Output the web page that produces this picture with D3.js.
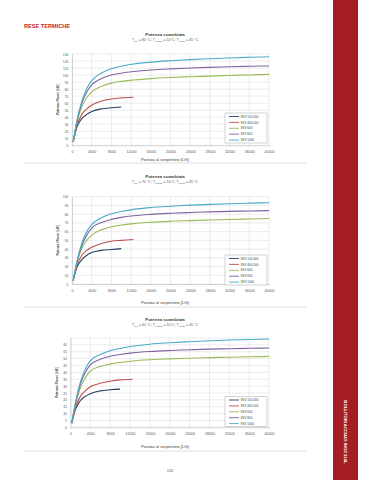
<!DOCTYPE html>
<html>
<head>
<meta charset="utf-8">
<script src="https://cdn.jsdelivr.net/npm/d3@7"></script>
<style>
  body { margin: 0; background: #fff; }
  svg { display: block; font-family: "Liberation Sans", Arial, sans-serif; }
  .grid line { stroke: #d9d9d9; stroke-width: 0.5; }
  .tick text { fill: #595959; }
</style>
</head>
<body>
<script>
// portata al serpentino [L/h]
var flows = [250, 1000, 2000, 3000, 4000, 6000, 8000, 10000, 12500, 16000, 20000, 24000, 28000, 32000, 36000, 40000];
var xTicks = [0, 4000, 8000, 12000, 16000, 20000, 24000, 28000, 32000, 36000, 40000];
var seriesNames = ["SKV 150-300", "SKV 400-500", "SKV 600", "SKV 800", "SKV 1000"];
var seriesColors = ["#243f60", "#c0504d", "#9bbb59", "#8064a2", "#4bacc6"];

// T coil = 80 °C
var power80 = [
    [5, 26, 38, 44, 48, 52, 53.5, 54.5],
    [5, 28, 44, 52, 57, 63, 66, 67.5, 68.5],
    [5, 32, 55, 68, 76, 84, 88.5, 91, 93, 95, 96.5, 97.6, 98.5, 99.4, 100.2, 101],
    [5, 34, 60, 76, 86, 95, 100, 102.7, 105, 107.2, 108.8, 110, 111, 111.8, 112.5, 113],
    [5, 35, 63, 81, 92, 103, 109, 112.6, 115.8, 118.4, 120.4, 122, 123.3, 124.4, 125.3, 126]
];
var yTicks80 = [0, 10, 20, 30, 40, 50, 60, 70, 80, 90, 100, 110, 120, 130];

// T coil = 70 °C
var power70 = [
    [4, 19, 28, 33, 36, 38.5, 39.5, 40.5],
    [4, 21, 33, 38.5, 42, 46.5, 49, 50, 51],
    [4, 24, 41, 50, 56, 62, 65.5, 67.5, 69.2, 70.7, 71.8, 72.6, 73.3, 73.9, 74.5, 75],
    [4, 25, 44, 56, 64, 70.5, 74, 76.3, 78.2, 79.8, 81, 81.9, 82.6, 83.2, 83.6, 84],
    [4, 26, 47, 60, 68, 76, 80.5, 83, 85.5, 87.6, 89.1, 90.3, 91.2, 92, 92.6, 93]
];
var yTicks70 = [0, 10, 20, 30, 40, 50, 60, 70, 80, 90, 100];

// T coil = 60 °C
var power60 = [
    [3, 13, 19.5, 22.5, 24.5, 26.5, 27.3, 27.8],
    [3, 14.5, 22.5, 26.5, 29.5, 32, 33.5, 34.5, 35],
    [3, 16.5, 29, 36, 41, 44.2, 46, 47.2, 48.3, 49.2, 49.8, 50.3, 50.7, 51, 51.3, 51.6],
    [3, 17.5, 31.5, 40, 45.5, 49.5, 51.7, 53, 54.2, 55.2, 55.9, 56.4, 56.9, 57.2, 57.5, 57.7],
    [3, 18, 33, 42.5, 48.5, 53, 55.7, 57.4, 59, 60.5, 61.5, 62.3, 63, 63.5, 63.9, 64.3]
];
var yTicks60 = [0, 5, 10, 15, 20, 25, 30, 35, 40, 45, 50, 55, 60];

var width = 374, height = 480;

var svg = d3.select("body").append("svg")
    .attr("width", width)
    .attr("height", height);

// red band on the right
svg.append("rect")
    .attr("x", 333).attr("y", 0)
    .attr("width", 25).attr("height", height)
    .attr("fill", "#a51d23");

svg.append("text")
    .attr("transform", "translate(343.5,432) rotate(90)")
    .attr("text-anchor", "middle")
    .attr("font-size", 4.2)
    .attr("font-weight", "bold")
    .attr("fill", "#fff")
    .text("BOLLITORI ACCIAIO INOX 316L");

svg.append("text")
    .attr("x", 24).attr("y", 28)
    .attr("font-size", 5.6)
    .attr("font-weight", "bold")
    .attr("fill", "#c0282d")
    .text("RESE TERMICHE");

svg.append("text")
    .attr("x", 170).attr("y", 472)
    .attr("text-anchor", "middle")
    .attr("font-size", 4)
    .attr("fill", "#595959")
    .text("120");

//separator lines
[163, 307, 451].forEach(function (y) {
    svg.append("line")
        .attr("x1", 24).attr("x2", 306)
        .attr("y1", y).attr("y2", y)
        .attr("stroke", "#d6d6d6")
        .attr("stroke-width", 0.8);
});

drawChart({ data: power80, yTicks: yTicks80, yMax: 130, tcoil: "80",
    left: 72, right: 269, top: 54, bottom: 145.3,
    titleY: 34, xTitleY: 159, legendY: 113 });
drawChart({ data: power70, yTicks: yTicks70, yMax: 100, tcoil: "70",
    left: 72, right: 269, top: 196.7, bottom: 284,
    titleY: 176, xTitleY: 302, legendY: 255 });
drawChart({ data: power60, yTicks: yTicks60, yMax: 65, tcoil: "60",
    left: 70.5, right: 269, top: 338, bottom: 427.3,
    titleY: 319, xTitleY: 446, legendY: 396.5 });

function drawChart(c) {
    var g = svg.append("g");
    var cx = 165;

    var x = d3.scaleLinear().domain([0, 40000]).range([c.left, c.right]);
    var y = d3.scaleLinear().domain([0, c.yMax]).range([c.bottom, c.top]);

    //titles
    g.append("text")
        .attr("x", cx).attr("y", c.titleY + 1.5)
        .attr("text-anchor", "middle")
        .attr("font-size", 4.4)
        .attr("font-weight", "bold")
        .attr("fill", "#404040")
        .text("Potenza scambiata");

    var sub = g.append("text")
        .attr("x", cx).attr("y", c.titleY + 7)
        .attr("text-anchor", "middle")
        .attr("font-size", 3.6)
        .attr("fill", "#595959");
    sub.append("tspan").text("T");
    sub.append("tspan").attr("font-size", 2.4).attr("dy", 1).text("coil");
    sub.append("tspan").attr("dy", -1).text(" = " + c.tcoil + " °C; T");
    sub.append("tspan").attr("font-size", 2.4).attr("dy", 1).text("entrata");
    sub.append("tspan").attr("dy", -1).text(" = 10°C; T");
    sub.append("tspan").attr("font-size", 2.4).attr("dy", 1).text("uscita");
    sub.append("tspan").attr("dy", -1).text(" = 45 °C");

    //grid
    var grid = g.append("g").attr("class", "grid");
    var yGrid = c.yTicks.slice();
    if (yGrid[yGrid.length - 1] < c.yMax) yGrid.push(c.yMax);
    grid.selectAll(".h").data(yGrid).enter().append("line")
        .attr("x1", c.left).attr("x2", c.right)
        .attr("y1", function (d) { return y(d); })
        .attr("y2", function (d) { return y(d); });
    grid.selectAll(".v").data(xTicks).enter().append("line")
        .attr("y1", c.top).attr("y2", c.bottom)
        .attr("x1", function (d) { return x(d); })
        .attr("x2", function (d) { return x(d); });

    //axes
    var xAxis = g.append("g")
        .attr("transform", "translate(0," + c.bottom + ")")
        .call(d3.axisBottom(x).tickValues(xTicks).tickSize(1).tickPadding(4).tickFormat(d3.format("d")));
    xAxis.select(".domain").attr("stroke", "#bfbfbf").attr("stroke-width", 0.6);
    xAxis.selectAll(".tick line").attr("stroke", "#bfbfbf").attr("stroke-width", 0.5);
    xAxis.selectAll("text").attr("font-size", 3.6);

    var yAxis = g.append("g")
        .attr("transform", "translate(" + c.left + ",0)")
        .call(d3.axisLeft(y).tickValues(c.yTicks).tickSize(0).tickPadding(3.5));
    yAxis.select(".domain").attr("stroke", "#bfbfbf").attr("stroke-width", 0.6);
    yAxis.selectAll("text").attr("font-size", 3.4);

    g.append("text")
        .attr("x", cx).attr("y", c.xTitleY + 1.5)
        .attr("text-anchor", "middle")
        .attr("font-size", 4.2)
        .attr("fill", "#404040")
        .text("Portata al serpentino [L/h]");

    g.append("text")
        .attr("transform", "translate(" + (c.left - 13) + "," + ((c.top + c.bottom) / 2) + ") rotate(-90)")
        .attr("text-anchor", "middle")
        .attr("font-size", 3)
        .attr("font-weight", "bold")
        .attr("fill", "#404040")
        .text("Potenza / Power [kW]");

    //curves
    var line = d3.line()
        .x(function (d) { return x(d[0]); })
        .y(function (d) { return y(d[1]); })
        .curve(d3.curveMonotoneX);

    c.data.forEach(function (vals, i) {
        var pts = vals.map(function (v, k) { return [flows[k], v]; });
        g.append("path")
            .datum(pts)
            .attr("fill", "none")
            .attr("stroke", seriesColors[i])
            .attr("stroke-width", 1.1)
            .attr("d", line);
    });

    //legend
    var lg = g.append("g").attr("transform", "translate(225," + c.legendY + ")");
    lg.append("rect")
        .attr("width", 42).attr("height", 30)
        .attr("fill", "#fff")
        .attr("stroke", "#a6a6a6")
        .attr("stroke-width", 0.5);
    seriesNames.forEach(function (name, i) {
        var ly = 3.5 + i * 5.9;
        lg.append("line")
            .attr("x1", 4).attr("x2", 14)
            .attr("y1", ly).attr("y2", ly)
            .attr("stroke", seriesColors[i])
            .attr("stroke-width", 0.9);
        lg.append("text")
            .attr("x", 15.5).attr("y", ly + 1.1)
            .attr("font-size", 3)
            .attr("fill", "#404040")
            .text(name);
    });
}
</script>
</body>
</html>
